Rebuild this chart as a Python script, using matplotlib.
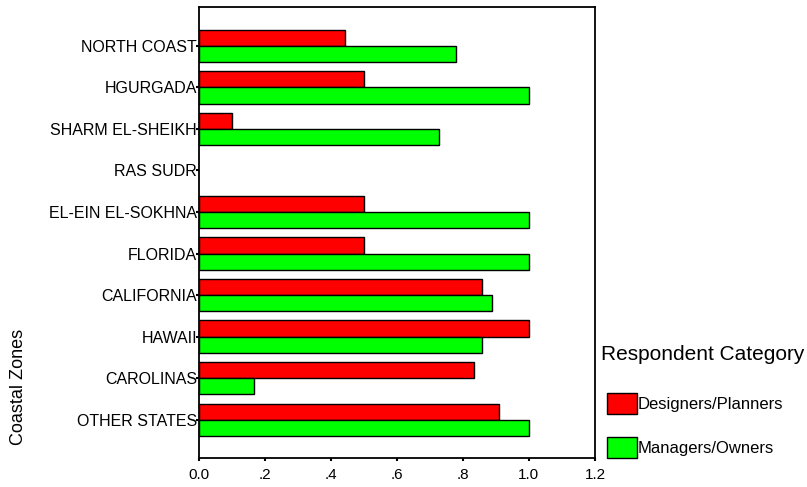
import matplotlib
matplotlib.use("Agg")
import matplotlib.pyplot as plt
from matplotlib.patches import Rectangle
from matplotlib.ticker import FixedLocator, FuncFormatter

plt.rcParams['font.family'] = ['Liberation Sans', 'DejaVu Sans']

zones = ["NORTH COAST", "HGURGADA", "SHARM EL-SHEIKH", "RAS SUDR", "EL-EIN EL-SOKHNA",
         "FLORIDA", "CALIFORNIA", "HAWAII", "CAROLINAS", "OTHER STATES"]
designers = [0.444, 0.5, 0.1, 0.0, 0.5, 0.5, 0.857, 1.0, 0.833, 0.909]
managers = [0.778, 1.0, 0.727, 0.0, 1.0, 1.0, 0.889, 0.857, 0.167, 1.0]
series_names = ["Designers/Planners", "Managers/Owners"]
colors = ["#ff0000", "#00ff00"]
xticks = [0.0, 0.2, 0.4, 0.6, 0.8, 1.0, 1.2]

W, H = 807, 487
fig = plt.figure(figsize=(W / 100, H / 100), dpi=100)
ax = fig.add_axes([198.5 / W, 1 - 458 / H, (595 - 198.5) / W, (458 - 7.5) / H])

pos = list(range(len(zones)))
h = 0.39
for vals, col, off in [(designers, colors[0], -h / 2), (managers, colors[1], h / 2)]:
    ys = [p + off for p in pos]
    vv = [v if v > 0 else 0 for v in vals]
    bars = ax.barh(ys, vv, height=h, color=col, edgecolor="black", linewidth=1.0)
    for b, v in zip(bars, vals):
        if v <= 0:
            b.set_visible(False)

ax.set_xlim(0, 1.2)
ax.set_ylim(len(zones) - 1 + 0.92, -0.92)
ax.set_yticks(pos)
ax.set_yticklabels(zones, fontsize=11.5)
ax.xaxis.set_major_locator(FixedLocator(xticks))

def fmt(v, _):
    s = f"{v:.1f}"
    if s.startswith("0.") and v != 0:
        s = s[1:]
    return s

ax.xaxis.set_major_formatter(FuncFormatter(fmt))
ax.tick_params(axis="x", labelsize=11, length=2.5, width=1.5, pad=5, direction="out")
ax.tick_params(axis="y", length=2.5, width=1.5, pad=-1.5, direction="out")
for s in ax.spines.values():
    s.set_linewidth(1.3)
    s.set_color("black")

fig.text(19 / W, 1 - 387 / H, "Coastal Zones", rotation=90, fontsize=13,
         ha="center", va="center")

# legend
fig.text(601 / W, 1 - 355 / H, "Respondent Category", fontsize=15, ha="left", va="center")
leg_rows = [(393, series_names[0], colors[0]), (437, series_names[1], colors[1])]
for top, name, col in leg_rows:
    fig.patches.append(Rectangle((607 / W, 1 - (top + 20.5) / H), 29.5 / W, 20.5 / H,
                                 transform=fig.transFigure, facecolor=col,
                                 edgecolor="black", linewidth=1.0))
    fig.text(638 / W, 1 - (top + 11) / H, name, fontsize=12, ha="left", va="center")

fig.savefig("out.png", dpi=100)
